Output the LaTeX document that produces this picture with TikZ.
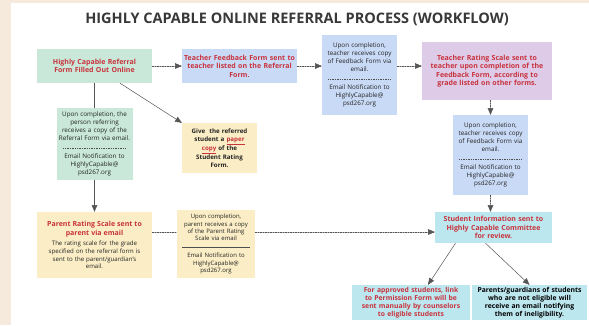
\documentclass[tikz,border=0pt]{standalone}
\usepackage{fontspec}
\setmainfont{Open Sans}
\usepackage{xcolor}
\usepackage{tikz}
\usetikzlibrary{arrows}

\definecolor{paper}{HTML}{F6EADC}
\definecolor{mint}{HTML}{C9E8D9}
\definecolor{sky}{HTML}{C9DAF6}
\definecolor{lilac}{HTML}{DDCBE8}
\definecolor{cream}{HTML}{FBEEC6}
\definecolor{aqua}{HTML}{BDE7EF}
\definecolor{headred}{HTML}{C8323C}
\definecolor{ink}{HTML}{222222}
\definecolor{wirecol}{HTML}{555555}

\newcommand{\hd}[1]{{\bfseries\color{headred}\fontsize{7}{8.4}\selectfont#1}}
\newcommand{\dashedsep}[1]{\leavevmode\hbox to #1{\color{ink!80}\cleaders\hbox to 2.4pt{\hss\rule[0.5ex]{1.4pt}{0.4pt}\hss}\hfill}}
\newcommand{\solidsep}[1]{\leavevmode{\color{ink!80}\rule[0.5ex]{#1}{0.4pt}}}

\begin{document}
\begin{tikzpicture}[line cap=round,line join=round,>=triangle 45,x=1pt,y=-1pt,
  box/.style={rectangle,inner sep=1pt,align=center,text=ink,font=\fontsize{6.3}{7.8}\selectfont},
  head/.style={box,text=headred,font=\bfseries\fontsize{7}{8.4}\selectfont},
  wire/.style={draw=wirecol,line width=0.5pt},
  flow/.style={wire,dash pattern=on 1.5pt off 1pt}]
\useasboundingbox (0,0) rectangle (589,325);
\fill[paper] (0,0) rectangle (589,325);
\fill[white] (11,3) rectangle (589,325);
\node[text=ink!90,font=\bfseries\fontsize{14.5}{17}\selectfont] (title) at (297,19) {HIGHLY CAPABLE ONLINE REFERRAL PROCESS (WORKFLOW)};
\node[head,fill=mint,minimum width=115,minimum height=34,text width=112] (refform) at (94.5,66) {Highly Capable Referral\\Form Filled Out Online};
\node[head,fill=sky,minimum width=115,minimum height=34,text width=113] (tfeedback) at (239.5,66) {Teacher Feedback Form sent to\\teacher listed on the Referral\\Form.};
\node[box,fill=sky,minimum width=75,minimum height=80,text width=73] (tcopy) at (359.5,75) {Upon completion,\\teacher receives copy\\of Feedback Form via\\email.\\[2pt]\dashedsep{66pt}\\[1pt]Email Notification to\\HighlyCapable@\\psd267.org};
\node[head,fill=lilac,minimum width=130,minimum height=58,text width=128] (tscale) at (487,71) {Teacher Rating Scale sent to\\teacher upon completion of the\\Feedback Form, according to\\grade listed on other forms.};
\node[box,fill=sky,minimum width=75,minimum height=80,text width=73] (tscalecopy) at (490.5,155) {Upon completion,\\teacher receives copy\\of Feedback Form via\\email.\\[2pt]\dashedsep{66pt}\\[1pt]Email Notification to\\HighlyCapable@\\psd267.org};
\node[box,fill=mint,minimum width=75,minimum height=72,text width=74] (refcopy) at (94.5,144) {Upon completion, the\\person referring\\receives a copy of the\\Referral Form via email.\\[2pt]\dashedsep{66pt}\\[1pt]Email Notification to\\HighlyCapable@\\psd267.org};
\node[box,fill=cream,minimum width=75,minimum height=50,text width=73,font=\bfseries\fontsize{6.2}{7.6}\selectfont] (studform) at (219.5,148) {Give\ \ the referred\\student a {\color{headred}\underline{paper}}\\{\color{headred}\underline{copy}} of the\\Student Rating\\Form.};
\node[box,fill=cream,minimum width=115,minimum height=66,text width=113,font=\fontsize{6.1}{7.6}\selectfont] (pscale) at (94.5,245) {\hd{Parent Rating Scale sent to}\\[1pt]\hd{parent via email}\\[3pt]The rating scale for the grade\\specified on the referral form is\\sent to the parent/guardian's\\email.};
\node[box,fill=cream,minimum width=78,minimum height=68,text width=76,font=\fontsize{6}{7.4}\selectfont] (pcopy) at (216,244) {Upon completion,\\parent receives a copy\\of the Parent Rating\\Scale via email\\[1pt]\solidsep{68pt}\\[1pt]Email Notification to\\HighlyCapable@\\psd267.org};
\node[head,fill=aqua,minimum width=117,minimum height=31,text width=115] (committee) at (493.5,227.5) {Student Information sent to\\Highly Capable Committee\\for review.};
\node[head,fill=aqua,minimum width=118,minimum height=35,text width=116,font=\bfseries\fontsize{6.8}{8}\selectfont] (approved) at (411,302.5) {For approved students, link\\to Permission Form will be\\sent manually by counselors\\to eligible students};
\node[head,fill=aqua,minimum width=115,minimum height=35,text width=113,text=black,font=\bfseries\fontsize{6.8}{8}\selectfont] (ineligible) at (529.5,302.5) {Parents/guardians of students\\who are not eligible will\\receive an email notifying\\them of ineligibility.};
\draw[flow,->] (refform) -- (tfeedback);
\draw[flow,->] (tfeedback.east) -- (tfeedback.east -| tcopy.west);
\draw[flow,->] (tfeedback.east -| tcopy.east) -- (tfeedback.east -| tscale.west);
\draw[flow,->] (tscalecopy.north |- tscale.south) -- (tscalecopy.north);
\draw[wire] (refform) -- (refcopy);
\draw[wire,->] (refform.-34) -- (studform.north west);
\draw[wire,->] (refcopy) -- (pscale);
\draw[flow] ([yshift=13pt]pscale.east) -- ([yshift=13pt]pscale.east -| pcopy.west);
\draw[flow,->] ([yshift=12pt]pcopy.east) -- ([yshift=12pt]pcopy.east -| committee.west);
\draw[flow,->] (tscalecopy.south) -- (tscalecopy.south |- committee.north);
\draw[wire,->] ([xshift=-38pt]committee.south) -- ([xshift=17pt]approved.north);
\draw[wire,->] ([xshift=-8pt]committee.south) -- ([xshift=0pt]ineligible.north);
\end{tikzpicture}
\end{document}
